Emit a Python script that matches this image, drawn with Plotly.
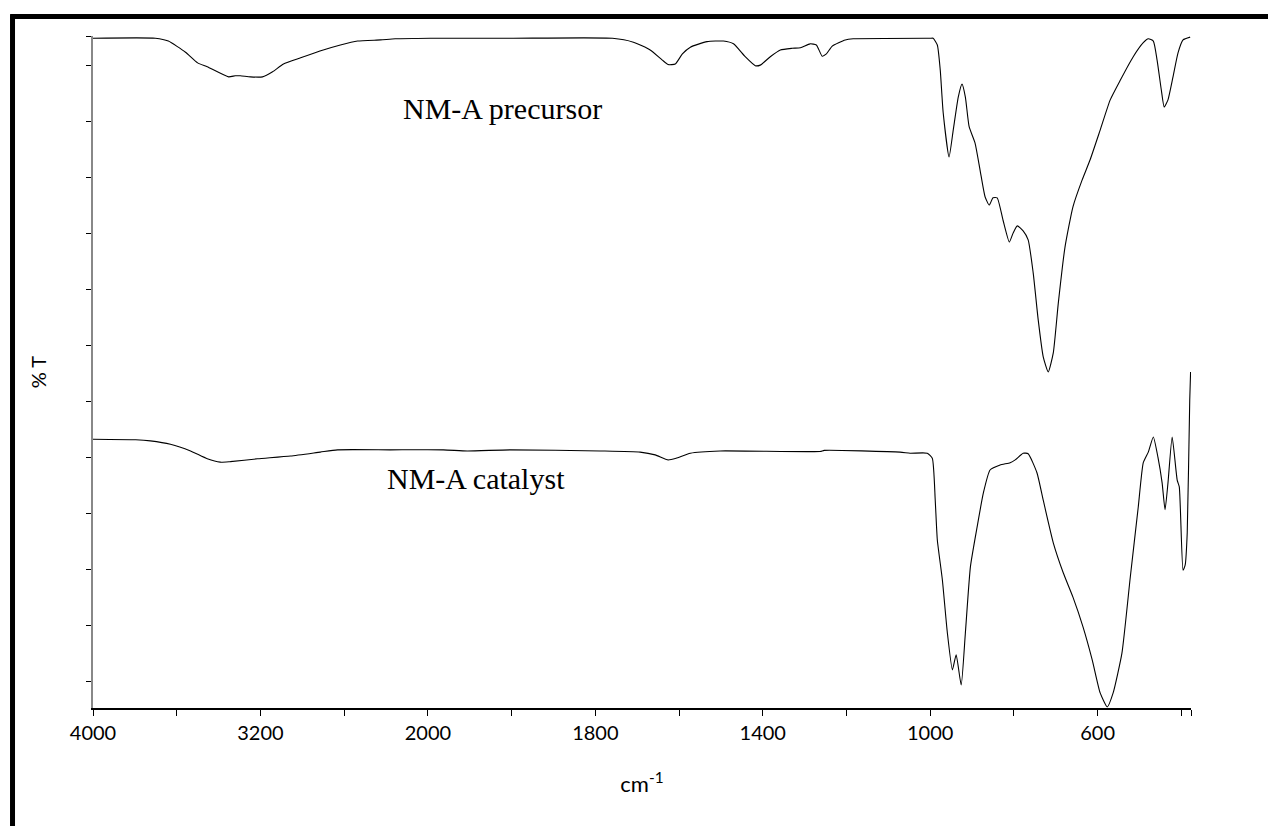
import plotly.graph_objects as go

# ---- data (x: wavenumber axis position, y: %T, arbitrary offset units) ----
precursor_x = [3000, 2851, 2820, 2779, 2750, 2727, 2676, 2660, 2648, 2624, 2595, 2571, 2545, 2504, 2450,
               2409, 2368, 2313, 2278, 2194, 2003,
               1759, 1709, 1669, 1640, 1626, 1609, 1592, 1573, 1533, 1494, 1470, 1442, 1418, 1406, 1382,
               1358, 1330, 1310, 1287, 1272, 1258, 1248, 1234, 1203, 1184, 1000,
               993, 983, 976, 969, 955, 945, 933, 924, 916, 907, 893, 881, 869, 859, 850, 840, 826, 811,
               802, 792, 778, 766, 754, 742, 730, 718, 706, 694, 678, 659, 637, 618, 594, 570, 546, 515,
               491, 479, 467, 458, 448, 441, 432, 420, 408, 396, 379]
precursor_y = [119.6, 119.6, 119.1, 117.1, 115.2, 114.5, 112.7, 112.9, 112.9, 112.7, 112.7, 113.6, 115.0,
               116.1, 117.5, 118.4, 119.1, 119.3, 119.5, 119.6, 119.6,
               119.6, 118.9, 117.5, 115.7, 114.9, 115.0, 116.8, 118.0, 119.0, 119.1, 118.6, 116.3, 114.7,
               114.8, 116.3, 117.5, 117.8, 117.9, 118.6, 118.4, 116.4, 116.8, 118.2, 119.3, 119.5, 119.6,
               119.6, 118.4, 113.9, 106.3, 98.4, 103.2, 109.1, 111.4, 109.1, 103.8, 100.9, 96.1, 91.3,
               89.8, 91.1, 91.1, 87.1, 83.2, 84.8, 86.1, 85.2, 83.6, 77.7, 69.3, 62.7, 60.0, 63.4, 72.3,
               82.3, 89.5, 94.3, 97.9, 103.2, 108.6, 112.1, 116.3, 118.8, 119.5, 119.1, 115.7, 110.4,
               107.3, 108.6, 112.7, 117.0, 119.3, 119.8]

catalyst_x = [3000, 2898, 2863, 2815, 2767, 2727, 2696, 2672, 2607, 2528, 2457, 2416, 2290, 2163, 2106,
              2003, 1788, 1693, 1657, 1626, 1607, 1573, 1502, 1263, 1253, 1072,
              1048, 1007, 995, 988, 983, 971, 959, 947, 938, 926, 916, 904, 888, 873, 857, 833, 809, 797,
              778, 766, 745, 730, 706, 682, 659, 635, 613, 594, 577, 563, 542, 522, 503, 491, 479, 467,
              456, 446, 439, 432, 422, 410, 405, 396, 391, 386, 380, 378]
catalyst_y = [48.0, 47.9, 47.7, 47.1, 45.9, 44.5, 43.9, 44.0, 44.5, 45.0, 45.7, 46.1, 46.1, 46.1, 45.9,
              46.1, 45.9, 45.7, 45.2, 44.3, 44.6, 45.5, 45.9, 45.8, 46.0, 45.7,
              45.5, 45.5, 44.6, 37.1, 30.0, 22.9, 13.4, 6.8, 9.5, 4.1, 13.4, 25.2, 32.3, 38.4, 42.5,
              43.4, 43.8, 44.3, 45.5, 45.4, 42.0, 37.1, 29.5, 24.1, 19.8, 14.5, 8.6, 2.7, 0.2, 2.7,
              9.8, 23.4, 35.9, 43.8, 45.7, 48.4, 44.8, 40.2, 35.4, 40.2, 48.4, 40.7, 39.5, 24.6, 25.5,
              31.3, 55.0, 60.0]

x_tick_vals = [3000, 2800, 2600, 2400, 2200, 2000, 1800, 1600, 1400, 1200, 1000, 800, 600, 400, 377]
x_tick_text = ["4000", "", "3200", "", "2000", "", "1800", "", "1400", "", "1000", "", "600", "", ""]
y_tick_vals = [4.8, 14.8, 24.8, 34.8, 44.8, 54.8, 64.8, 74.8, 84.8, 94.8, 104.8, 114.8, 120]

labels = ["NM-A precursor", "NM-A catalyst"]
label_x = [2022, 2084]
label_y = [107, 41]

fig = go.Figure()
fig.add_trace(go.Scatter(x=precursor_x, y=precursor_y, mode="lines", name=labels[0],
                         line=dict(color="black", width=1.1, shape="spline", smoothing=0.5)))
fig.add_trace(go.Scatter(x=catalyst_x, y=catalyst_y, mode="lines", name=labels[1],
                         line=dict(color="black", width=1.1, shape="spline", smoothing=0.5)))

for t, ax_, ay_ in zip(labels, label_x, label_y):
    fig.add_annotation(x=ax_, y=ay_, text=t, showarrow=False, xanchor="center", yanchor="middle",
                       font=dict(family="Liberation Serif", size=30, color="black"))

# page frame (left and top)
fig.add_shape(type="line", xref="paper", yref="paper", x0=-0.0733, x1=-0.0733, y0=1.031, y1=-0.2,
              line=dict(color="black", width=5))
fig.add_shape(type="line", xref="paper", yref="paper", x0=-0.0755, x1=1.08, y0=1.029, y1=1.029,
              line=dict(color="black", width=5))

fig.update_layout(
    width=1268, height=826,
    margin=dict(l=93, r=77, t=36, b=118),
    paper_bgcolor="white", plot_bgcolor="white",
    showlegend=False,
    font=dict(family="Lato", size=20, color="black"),
    xaxis=dict(range=[3000, 377], tickmode="array", tickvals=x_tick_vals, ticktext=x_tick_text,
               showgrid=False, zeroline=False, showline=True, linecolor="black", linewidth=1.5,
               ticks="outside", ticklen=6, tickwidth=1, tickcolor="black",
               tickfont=dict(family="Lato", size=20),
               title=dict(text="cm<sup>-1</sup>", font=dict(family="Lato", size=22), standoff=34)),
    yaxis=dict(range=[0, 120], tickmode="array", tickvals=y_tick_vals, ticktext=[""] * len(y_tick_vals),
               showgrid=False, zeroline=False, showline=True, linecolor="#888888", linewidth=2,
               ticks="outside", ticklen=5, tickwidth=1, tickcolor="black",
               title=dict(text="% T", font=dict(family="Lato", size=20), standoff=30)),
)

fig.write_html("out.html")
